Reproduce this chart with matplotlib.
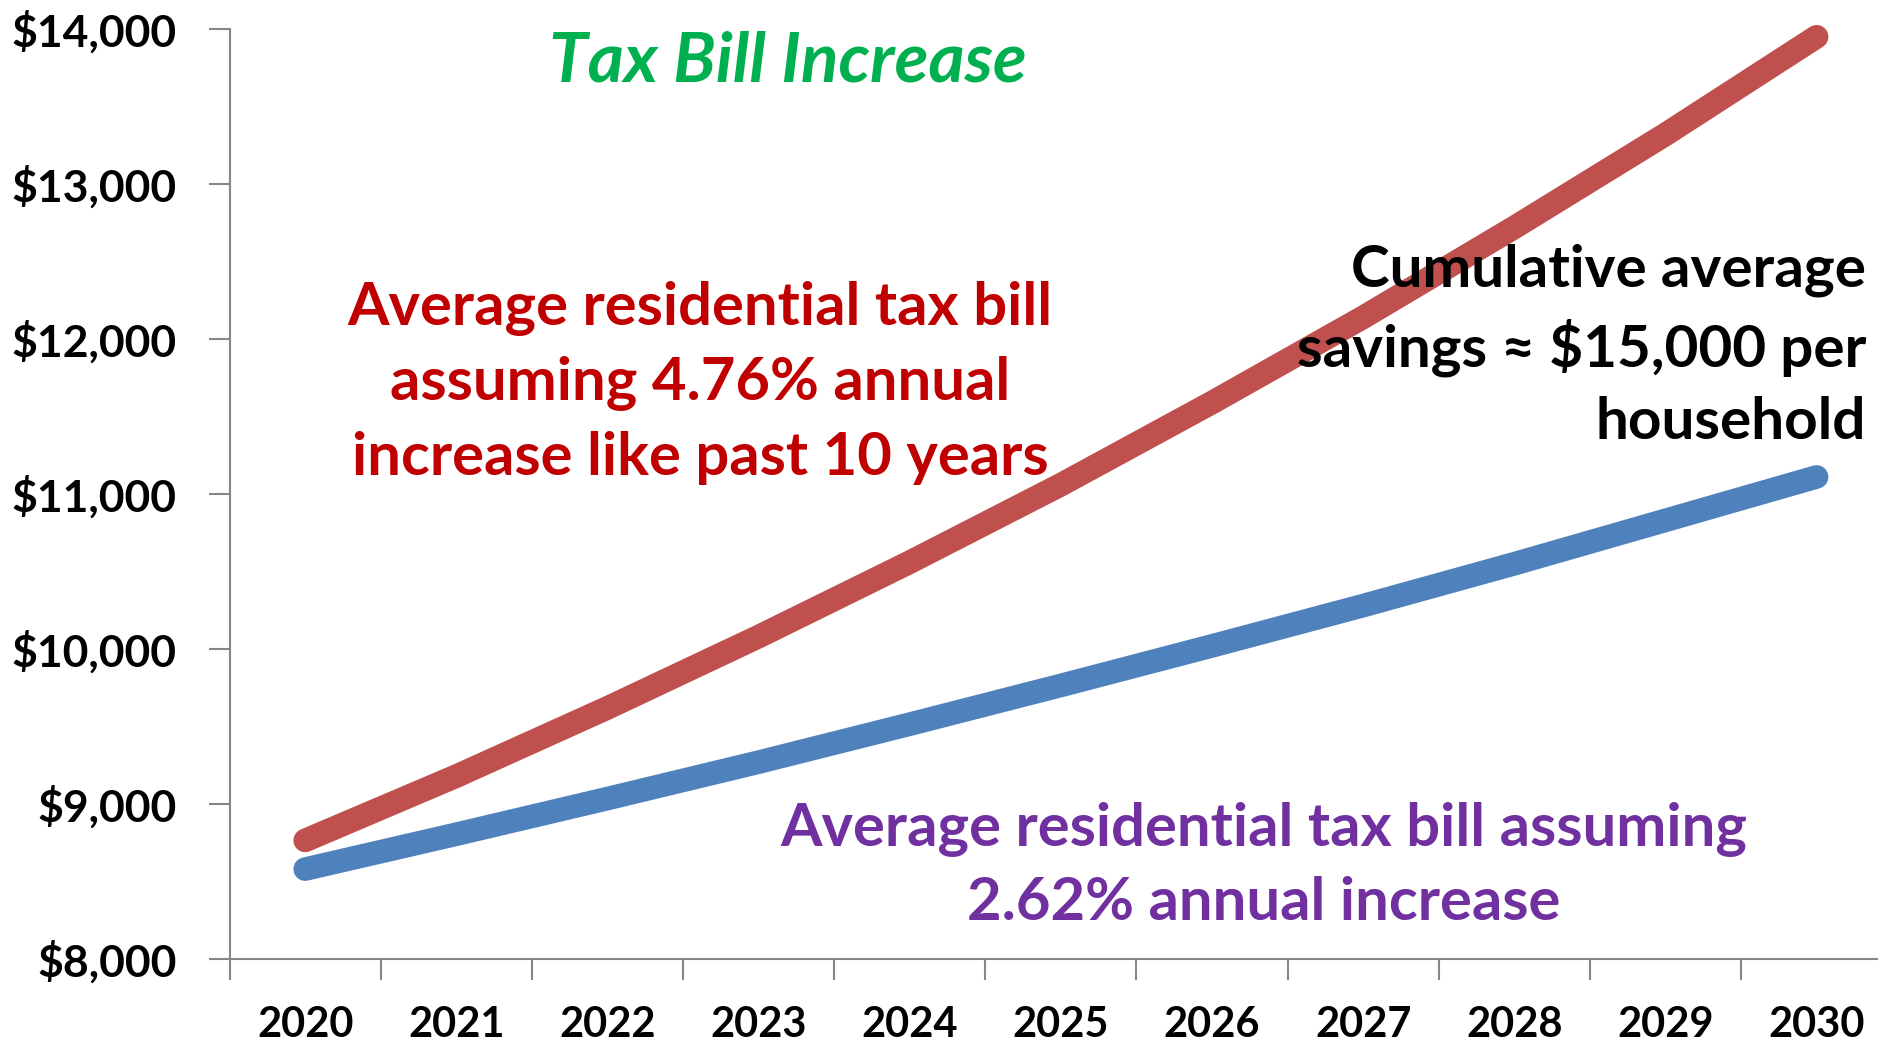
import matplotlib.pyplot as plt
from matplotlib.ticker import FuncFormatter

years = [2020, 2021, 2022, 2023, 2024, 2025, 2026, 2027, 2028, 2029, 2030]
# average residential tax bill, 4.76% annual growth
bill_high = [8765, 9180, 9620, 10080, 10560, 11060, 11590, 12140, 12720, 13320, 13950]
# average residential tax bill, 2.62% annual growth
bill_low = [8580, 8805, 9035, 9270, 9515, 9765, 10020, 10280, 10550, 10830, 11110]
y_ticks = [8000, 9000, 10000, 11000, 12000, 13000, 14000]

plt.rcParams["font.family"] = ["Lato", "DejaVu Sans"]
plt.rcParams["font.weight"] = "bold"

W, H = 1878, 1043
fig = plt.figure(figsize=(W / 100, H / 100), dpi=100)
ax = fig.add_axes([229.6 / W, 1 - 959 / H, 1662.6 / W, (959 - 29) / H])

xs = list(range(len(years)))
ax.plot(xs, bill_high, color="#C0504D", lw=17, solid_capstyle="round", clip_on=False, zorder=3)
ax.plot(xs, bill_low, color="#4F81BD", lw=17, solid_capstyle="round", clip_on=False, zorder=3)

ax.set_xlim(-0.5, len(years) - 0.5)
ax.set_ylim(8000, 14000)
ax.set_yticks(y_ticks)
ax.yaxis.set_major_formatter(FuncFormatter(lambda v, p: f"${v:,.0f}"))
# tick marks sit between categories, labels sit on them
ax.set_xticks([i - 0.5 for i in range(len(years) + 1)])
ax.set_xticklabels([])
ax.set_xticks(xs, minor=True)
ax.set_xticklabels([str(y) for y in years], minor=True)
ax.tick_params(axis="x", which="minor", length=0, pad=34, labelsize=30)
ax.tick_params(axis="x", which="major", length=15, width=1.5, color="#868686")
ax.tick_params(axis="y", length=15, width=1.5, color="#868686", pad=23, labelsize=32)

for s in ("top", "right"):
    ax.spines[s].set_visible(False)
for s in ("left", "bottom"):
    ax.spines[s].set_color("#868686")
    ax.spines[s].set_linewidth(1.5)

def fig_text(x, y, s, **kw):
    fig.text(x / W, 1 - y / H, s, va="center", fontweight="bold", **kw)

fig_text(788, 62, "Tax Bill Increase", color="#00B050", fontsize=50,
         style="italic", ha="center")
fig_text(700, 383, "Average residential tax bill\nassuming 4.76% annual\nincrease like past 10 years",
         color="#C00000", fontsize=43, ha="center", linespacing=1.45)
fig_text(1866, 346, "Cumulative average\nsavings \u2248 $15,000 per\nhousehold",
         color="black", fontsize=42, ha="right", linespacing=1.45)
fig_text(1264, 866, "Average residential tax bill assuming\n2.62% annual increase",
         color="#7030A0", fontsize=43, ha="center", linespacing=1.45)

fig.savefig("out.png", dpi=100)
